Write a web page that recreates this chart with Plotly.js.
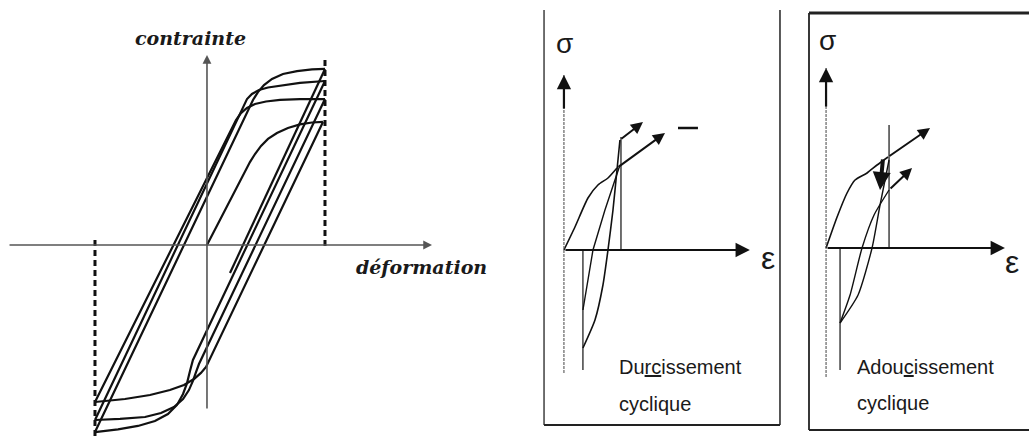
<!DOCTYPE html>
<html>
<head>
<meta charset="utf-8">
<script src="https://cdn.plot.ly/plotly-3.0.1.min.js"></script>
<style>html,body{margin:0;padding:0;background:#fff;}#chart{width:1029px;height:439px;}</style>
</head>
<body>
<div id="chart"></div>
<script>
// ---------- Left panel: cyclic loops (normalized strain, normalized stress) ----------
const loadEps    = [0, 0.364, 0.407, 0.458, 0.517, 0.593, 0.686, 0.788, 0.89, 0.983];
const loadSig    = [0, 0.474, 0.52, 0.566, 0.606, 0.64, 0.669, 0.689, 0.7, 0.703];
const unload1Eps = [0.983, 0.025, -0.008, -0.051, -0.11, -0.195, -0.314, -0.483, -0.695, -0.949];
const unload1Sig = [0.703, -0.657, -0.697, -0.731, -0.766, -0.8, -0.829, -0.857, -0.88, -0.897];
const reload1Eps = [-0.949, 0.246, 0.288, 0.339, 0.407, 0.5, 0.619, 0.788, 1.0];
const reload1Sig = [-0.897, 0.714, 0.754, 0.783, 0.806, 0.82, 0.829, 0.834, 0.834];
const unload2Eps = [1.0, -0.068, -0.093, -0.119, -0.153, -0.203, -0.28, -0.39, -0.525, -0.737, -0.949];
const unload2Sig = [0.834, -0.68, -0.726, -0.777, -0.829, -0.88, -0.926, -0.96, -0.983, -0.994, -1.0];
const reload2Eps = [-0.949, 0.305, 0.339, 0.381, 0.441, 0.517, 0.619, 0.788, 1.0];
const reload2Sig = [-1.0, 0.794, 0.834, 0.863, 0.886, 0.9, 0.911, 0.926, 0.937];
const unload3Eps = [1.0, -0.119, -0.144, -0.169, -0.203, -0.254, -0.331, -0.441, -0.585, -0.754, -0.949];
const unload3Sig = [0.937, -0.657, -0.72, -0.789, -0.851, -0.914, -0.966, -1.006, -1.034, -1.054, -1.069];
const reload3Eps = [-0.949, 0.356, 0.39, 0.432, 0.483, 0.551, 0.644, 0.763, 0.89, 1.0];
const reload3Sig = [-1.069, 0.777, 0.829, 0.874, 0.914, 0.949, 0.977, 0.994, 1.003, 1.006];
const unload4Eps = [1.0, 0.195];
const unload4Sig = [1.006, -0.16];
const epsMaxLine = [1.0, 1.0];       const epsMaxSig = [1.057, -0.017];
const epsMinLine = [-0.949, -0.949]; const epsMinSig = [0.029, -1.103];
const leftXAxis = [-1.686, 1.907];  // strain axis extent
const leftYAxis = [-0.943, 1.086];  // stress axis extent
const leftLabels = ["contrainte", "déformation"];

// ---------- Middle panel: cyclic hardening ----------
const hMonoEps   = [0, 0.193, 0.421, 0.596, 0.772, 0.93];
const hMonoSig   = [0, 0.23, 0.52, 0.65, 0.72, 0.82];
const hMonoTip   = [1.772, 1.17];
const hReloadEps = [0.333, 0.544, 0.684, 0.772, 0.86, 0.93, 0.982];
const hReloadSig = [-0.98, -0.7, -0.35, 0, 0.4, 0.8, 1.1];
const hReloadTip = [1.386, 1.28];
const hUnloadEps = [0.982, 0.719, 0.509, 0.333];
const hUnloadSig = [0.85, 0.4, 0, -0.6];
const hEpsMax = [1.0, 1.0];     const hEpsMaxSig = [1.13, 0];
const hEpsMin = [0.333, 0.333]; const hEpsMinSig = [0, -1.2];
const hDashEps = [2.0, 2.35];   const hDashSig = [1.22, 1.22];
const hXAxis = [0, 3.26];
const hYAxis = [-1.23, 1.75];
const hLabel = ["Du<u>rc</u>issement", "cyclique"];

// ---------- Right panel: cyclic softening ----------
const sMonoEps   = [0, 0.175, 0.333, 0.46, 0.651, 0.81, 0.984];
const sMonoSig   = [0, 0.31, 0.55, 0.68, 0.75, 0.83, 0.91];
const sMonoTip   = [1.651, 1.2];
const sUnloadEps = [1.0, 0.857, 0.73, 0.508, 0.222];
const sUnloadSig = [0.88, 0.43, 0, -0.47, -0.75];
const sReloadEps = [0.222, 0.381, 0.571, 0.762, 1.0];
const sReloadSig = [-0.75, -0.47, 0, 0.33, 0.58];
const sReloadTip = [1.365, 0.8];
const sDropEps = [0.905, 0.857]; const sDropSig = [0.9, 0.58];
const sEpsMax = [1.0, 1.0];     const sEpsMaxSig = [1.23, 0];
const sEpsMin = [0.222, 0.222]; const sEpsMinSig = [0, -1.22];
const sXAxis = [0, 2.84];
const sYAxis = [-1.29, 1.8];
const sLabel = ["Adou<u>c</u>issement", "cyclique"];

const INK = '#111';
function line(x, y, ax, opts) {
  opts = opts || {};
  return {
    type: 'scatter', mode: 'lines', x: x, y: y,
    xaxis: 'x' + (ax === 1 ? '' : ax), yaxis: 'y' + (ax === 1 ? '' : ax),
    line: Object.assign({color: INK, width: 2.2, shape: 'linear'}, opts),
    hoverinfo: 'skip', showlegend: false
  };
}
const curvy = {width: 1.6, shape: 'spline', smoothing: 0.6};
const traces = [
  line(loadEps, loadSig, 1), line(unload1Eps, unload1Sig, 1), line(reload1Eps, reload1Sig, 1),
  line(unload2Eps, unload2Sig, 1), line(reload2Eps, reload2Sig, 1), line(unload3Eps, unload3Sig, 1),
  line(reload3Eps, reload3Sig, 1), line(unload4Eps, unload4Sig, 1),
  line(epsMaxLine, epsMaxSig, 1, {width: 3, dash: '6px,4px'}),
  line(epsMinLine, epsMinSig, 1, {width: 3, dash: '6px,4px'}),

  line(hMonoEps, hMonoSig, 2, curvy), line(hReloadEps, hReloadSig, 2, curvy),
  line(hUnloadEps, hUnloadSig, 2, {width: 1.4}),
  line(hEpsMax, hEpsMaxSig, 2, {width: 1.2}),
  line(hEpsMin, hEpsMinSig, 2, {width: 1.2}),
  line(hDashEps, hDashSig, 2, {width: 2.5}),
  line([0, 0], hYAxis, 2, {width: 1, color: '#444', dash: '3px,1px'}),

  line(sMonoEps, sMonoSig, 3, curvy), line(sUnloadEps, sUnloadSig, 3, Object.assign({}, curvy, {width: 1.4})),
  line(sReloadEps, sReloadSig, 3, Object.assign({}, curvy, {width: 1.4})),
  line(sEpsMax, sEpsMaxSig, 3, {width: 1.2}),
  line(sEpsMin, sEpsMinSig, 3, {width: 1.2}),
  line([0, 0], sYAxis, 3, {width: 1, color: '#444', dash: '3px,1px'})
];

function arrow(ax, x0, y0, x1, y1, o) {
  o = o || {};
  const xr = 'x' + (ax === 1 ? '' : ax), yr = 'y' + (ax === 1 ? '' : ax);
  return Object.assign({
    xref: xr, yref: yr, axref: xr, ayref: yr,
    x: x1, y: y1, ax: x0, ay: y0, text: '', showarrow: true,
    arrowhead: 2, arrowsize: 1, arrowwidth: 1.5, arrowcolor: INK, standoff: 0
  }, o);
}
function label(ax, x, y, text, o) {
  const xr = 'x' + (ax === 1 ? '' : ax), yr = 'y' + (ax === 1 ? '' : ax);
  return Object.assign({xref: xr, yref: yr, x: x, y: y, text: text, showarrow: false,
    font: {family: 'Liberation Sans', size: 28, color: '#1a1a1a'}}, o || {});
}
const sans = {family: '"Liberation Sans", Arial', size: 20, color: '#1a1a1a'};
const serifBI = {family: '"DejaVu Serif", serif', size: 19, color: '#1a1a1a', weight: 'bold', style: 'italic'};
const epsFont = {family: 'Liberation Sans', size: 32, color: '#1a1a1a'};

const annotations = [
  arrow(1, 0, leftYAxis[0], 0, leftYAxis[1], {arrowcolor: '#555', arrowwidth: 1.6, arrowsize: 1.1}),
  arrow(1, leftXAxis[0], 0, leftXAxis[1], 0, {arrowcolor: '#555', arrowwidth: 1.6, arrowsize: 1.1}),
  label(1, -0.14, 1.183, leftLabels[0], {font: serifBI}),
  label(1, 1.814, -0.126, leftLabels[1], {font: serifBI}),

  arrow(2, 0, 0, hXAxis[1], 0, {arrowwidth: 2.2, arrowsize: 1.3}),
  arrow(2, 0, 1.4, 0, hYAxis[1], {arrowwidth: 2.2, arrowsize: 1.3}),
  arrow(2, hMonoEps[hMonoEps.length - 1], hMonoSig[hMonoSig.length - 1], hMonoTip[0], hMonoTip[1], {arrowwidth: 2, arrowsize: 1.2}),
  arrow(2, hReloadEps[hReloadEps.length - 1], hReloadSig[hReloadSig.length - 1], hReloadTip[0], hReloadTip[1], {arrowwidth: 2, arrowsize: 1.2}),
  label(2, 0.018, 2.07, 'σ'),
  label(2, 3.58, -0.08, 'ε', {font: epsFont}),
  label(2, 0.93, -1.17, hLabel[0], {xanchor: 'left', font: sans}),
  label(2, 0.93, -1.54, hLabel[1], {xanchor: 'left', font: sans}),

  arrow(3, 0, 0, sXAxis[1], 0, {arrowwidth: 2.2, arrowsize: 1.3}),
  arrow(3, 0, 1.4, 0, sYAxis[1], {arrowwidth: 2.2, arrowsize: 1.3}),
  arrow(3, sMonoEps[sMonoEps.length - 1], sMonoSig[sMonoSig.length - 1], sMonoTip[0], sMonoTip[1], {arrowwidth: 2, arrowsize: 1.2}),
  arrow(3, sReloadEps[sReloadEps.length - 1], sReloadSig[sReloadSig.length - 1], sReloadTip[0], sReloadTip[1], {arrowwidth: 2, arrowsize: 1.2}),
  arrow(3, sDropEps[0], sDropSig[0], sDropEps[1], sDropSig[1], {arrowwidth: 4, arrowsize: 0.9}),
  label(3, 0.016, 2.08, 'σ'),
  label(3, 2.95, -0.14, 'ε', {font: epsFont}),
  label(3, 0.46, -1.19, sLabel[0], {xanchor: 'left', font: sans}),
  label(3, 0.46, -1.55, sLabel[1], {xanchor: 'left', font: sans})
];

function pl(x0, y0, x1, y1, w) {
  return {type: 'line', xref: 'paper', yref: 'paper', x0: x0, y0: y0, x1: x1, y1: y1,
          line: {color: '#222', width: w}};
}
const shapes = [
  pl(0.5287, 0.9772, 0.5287, 0.0319, 1.3),
  pl(0.758, 0.9772, 0.758, 0.0319, 1.5),
  pl(0.5287, 0.0319, 0.758, 0.0319, 2),
  pl(0.7862, 0.9704, 0.7862, 0.0205, 1.8),
  pl(0.7862, 0.9704, 1.0, 0.9704, 3),
  pl(0.7862, 0.0205, 1.0, 0.0205, 2)
];

const hidden = {visible: false, showgrid: false, zeroline: false, fixedrange: true};
const layout = {
  width: 1029, height: 439,
  margin: {l: 0, r: 0, t: 0, b: 0},
  paper_bgcolor: '#fff', plot_bgcolor: 'rgba(0,0,0,0)',
  showlegend: false,
  xaxis:  Object.assign({domain: [0, 0.4859], range: [-1.754, 2.483]}, hidden),
  yaxis:  Object.assign({domain: [0, 1], range: [-1.1086, 1.4], anchor: 'x'}, hidden),
  xaxis2: Object.assign({domain: [0.515, 0.7775], range: [-0.5965, 4.1404], anchor: 'y2'}, hidden),
  yaxis2: Object.assign({domain: [0, 1], range: [-1.89, 2.5], anchor: 'x2'}, hidden),
  xaxis3: Object.assign({domain: [0.7775, 1], range: [-0.413, 3.222], anchor: 'y3'}, hidden),
  yaxis3: Object.assign({domain: [0, 1], range: [-1.91, 2.48], anchor: 'x3'}, hidden),
  annotations: annotations,
  shapes: shapes
};
Plotly.newPlot('chart', traces, layout, {displayModeBar: false, staticPlot: true});
</script>
</body>
</html>
